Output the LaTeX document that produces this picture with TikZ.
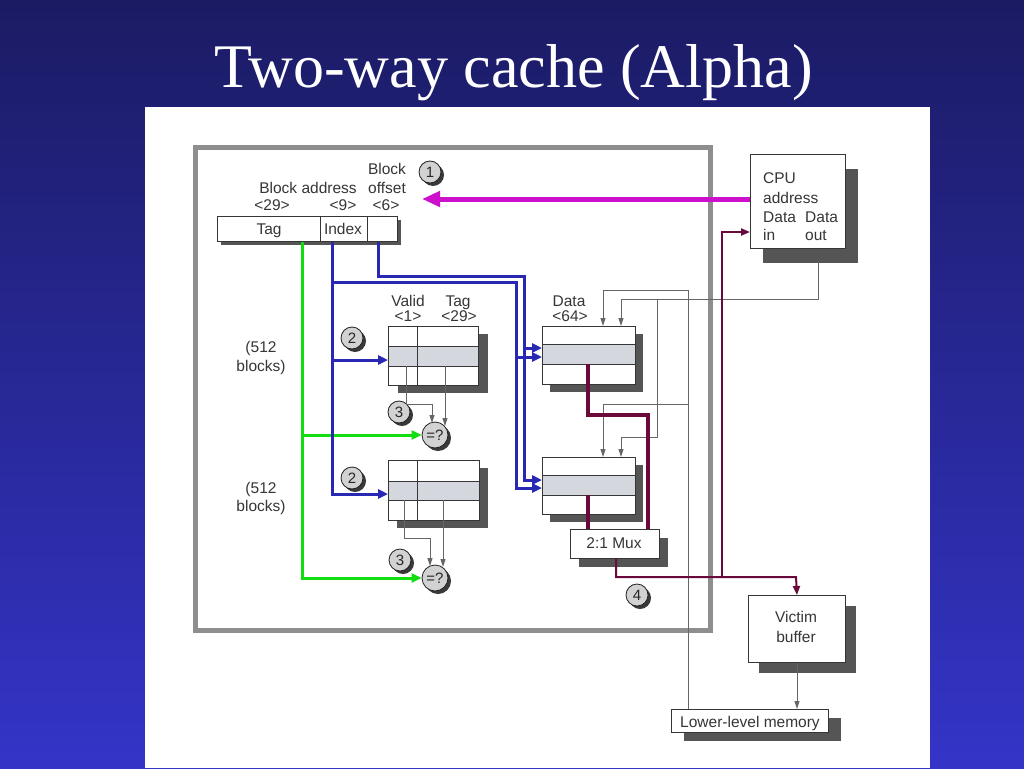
\documentclass[tikz,border=0pt]{standalone}
\usepackage{fontspec}
\setmainfont{Liberation Sans}
\newfontfamily\titlefont{Liberation Serif}
\usetikzlibrary{arrows.meta,shadows}
\definecolor{bgtop}{HTML}{1B1B64}
\definecolor{bgbot}{HTML}{3434C8}
\definecolor{txt}{HTML}{363636}
\definecolor{shd}{HTML}{555555}
\definecolor{ln}{HTML}{666666}
\definecolor{mag}{HTML}{CC10CC}
\definecolor{grn}{HTML}{11DD11}
\definecolor{blu}{HTML}{2828B4}
\definecolor{mar}{HTML}{6A0A3C}
\definecolor{rowc}{HTML}{D4D8DE}
\definecolor{frame}{HTML}{8E8E8E}
\tikzset{
 lbl/.style={text=txt, font=\fontsize{15.5}{17}\selectfont, inner sep=0pt},
 box/.style={draw=txt, line width=1pt, fill=white, inner sep=0pt, anchor=north west},
 shad/.style 2 args={general shadow={fill=shd, shadow xshift=#1, shadow yshift=#2}},
 badge/.style={circle, draw=gray!25!black, line width=0.8pt, fill=gray!35, minimum size=22pt, inner sep=0pt, text=gray!30!black, font=\fontsize{15}{15}\selectfont, general shadow={fill=gray!45!black, shadow xshift=3pt, shadow yshift=-3pt}},
 eqc/.style={badge, minimum size=26pt},
 gline/.style={draw=ln, line width=1pt},
 garr/.style={gline, -{Triangle[length=8pt,width=5pt]}},
 grarr/.style={draw=grn, line width=3pt, -{Triangle[length=10pt,width=9pt]}},
 barr/.style={draw=blu, line width=3pt, -{Triangle[length=10pt,width=9pt]}},
 mthick/.style={draw=mar, line width=4pt},
 marr/.style={draw=mar, line width=2pt, -{Triangle[length=9pt,width=7pt]}},
 magarr/.style={draw=mag, line width=5pt, -{Triangle[length=18pt,width=15pt]}},
}
\begin{document}
\begin{tikzpicture}[x=1pt,y=-1pt]
\useasboundingbox (0,0) rectangle (1024,768);
\shade[top color=bgtop,bottom color=bgbot] (0,0) rectangle (1024,768);
\fill[white] (145,107) rectangle (930,768);
\node[text=white,font=\titlefont\fontsize{62}{70}\selectfont,anchor=base,inner sep=0pt] (title) at (514,87) {Two-way cache (Alpha)};

% outer cache box
\node[draw=frame, line width=5pt, minimum width=515pt, minimum height=483pt, anchor=north west, inner sep=0pt] (cache) at (193,145) {};

% address
\node[box, minimum width=180pt, minimum height=25pt, shad={3pt}{-3pt}] (addr) at (217,216) {};
\draw[draw=txt, line width=1pt] (320,216) -- (320,241) (367,216) -- (367,241);
\node[lbl, anchor=base] (ftag) at (269,234) {Tag};
\node[lbl, anchor=base] (fidx) at (343,234) {Index};
\node[lbl, anchor=base] (lblk) at (387,174) {Block};
\node[lbl, anchor=base] (lba) at (308,193) {Block address};
\node[lbl, anchor=base] (loff) at (387,193) {offset};
\node[lbl, anchor=base] (l29) at (272,210) {<29>};
\node[lbl, anchor=base] (l9) at (343,210) {<9>};
\node[lbl, anchor=base] (l6) at (386,210) {<6>};
\node[badge] (b1) at (430,172) {1};

% CPU
\node[box, minimum width=95pt, minimum height=94pt, shad={12pt}{-14pt}] (cpu) at (750,154) {};
\node[lbl, anchor=base west] (tcpu) at (763,183) {CPU};
\node[lbl, anchor=base west] (tadr) at (763,203) {address};
\node[lbl, anchor=base west] (tdi) at (763,222) {Data};
\node[lbl, anchor=base west] (tdo) at (805,222) {Data};
\node[lbl, anchor=base west] (tin) at (763,240) {in};
\node[lbl, anchor=base west] (tout) at (805,240) {out};

% tag arrays
\node[box, minimum width=90pt, minimum height=59pt, shad={9pt}{-7pt}] (tagA) at (388,326) {};
\fill[rowc] (388,346) rectangle (478,366);
\draw[draw=txt, line width=1pt] (388,326) rectangle (478,385) (388,346) -- (478,346) (388,366) -- (478,366) (417,326) -- (417,385);
\node[box, minimum width=91pt, minimum height=60pt, shad={8pt}{-7pt}] (tagB) at (388,460) {};
\fill[rowc] (388,481) rectangle (479,500);
\draw[draw=txt, line width=1pt] (388,460) rectangle (479,520) (388,481) -- (479,481) (388,500) -- (479,500) (417,460) -- (417,520);
\node[lbl, anchor=base] (lval) at (408,306) {Valid};
\node[lbl, anchor=base] (l1) at (408,321) {<1>};
\node[lbl, anchor=base] (ltag) at (458,306) {Tag};
\node[lbl, anchor=base] (lt29) at (459,321) {<29>};
\node[lbl, anchor=base] (n1a) at (261,352) {(512};
\node[lbl, anchor=base] (n1b) at (261,371) {blocks)};
\node[lbl, anchor=base] (n2a) at (261,493) {(512};
\node[lbl, anchor=base] (n2b) at (261,511) {blocks)};

% data arrays
\node[box, minimum width=93pt, minimum height=58pt, shad={7pt}{-7pt}] (data1) at (542,326) {};
\fill[rowc] (542,344) rectangle (635,364);
\draw[draw=txt, line width=1pt] (542,326) rectangle (635,384) (542,344) -- (635,344) (542,364) -- (635,364);
\node[box, minimum width=93pt, minimum height=57pt, shad={7pt}{-7pt}] (data2) at (542,457) {};
\fill[rowc] (542,475) rectangle (635,495);
\draw[draw=txt, line width=1pt] (542,457) rectangle (635,514) (542,475) -- (635,475) (542,495) -- (635,495);
\node[lbl, anchor=base] (ldat) at (569,306) {Data};
\node[lbl, anchor=base] (l64) at (570,321) {<64>};

% mux, victim, memory
\node[box, minimum width=89pt, minimum height=29pt, shad={8pt}{-8pt}] (mux) at (570,529) {};
\node[lbl, anchor=base] (tmux) at (614,548) {2:1 Mux};
\node[box, minimum width=97pt, minimum height=67pt, shad={10pt}{-10pt}] (victim) at (748,595) {};
\node[lbl, anchor=base] (tv1) at (796,622) {Victim};
\node[lbl, anchor=base] (tv2) at (796,642) {buffer};
\node[box, minimum width=157pt, minimum height=23pt, shad={12pt}{-8pt}] (lowmem) at (671,709) {};
\node[lbl, anchor=base] (tlm) at (750,727) {Lower-level memory};

% badges and comparators
\node[badge] (b2a) at (352,338) {2};
\node[badge] (b3a) at (399,412) {3};
\node[badge] (b2b) at (352,478) {2};
\node[badge] (b3b) at (400,560) {3};
\node[badge] (b4) at (637,595) {4};
\node[eqc] (eq1) at (435,435) {=?};
\node[eqc] (eq2) at (435,578) {=?};

% gray data paths
\draw[garr] (818,262) -- (818,299) -- (621,299) -- (data1.north -| 621,0);
\draw[garr] (657,299) -- (657,437) -- (621,437) -- (data2.north -| 621,0);
\draw[garr] (lowmem.north -| 688,0) -- (688,290) -- (603,290) -- (data1.north -| 603,0);
\draw[garr] (688,404) -- (603,404) -- (data2.north -| 603,0);
\draw[garr] (victim.south) -- (lowmem.north -| victim.south);

% comparator inputs
\draw[garr] (406,366) -- (406,404) -- (432,404) -- (432,423);
\draw[garr] (445,366) -- (445,426);
\draw[garr] (404,500) -- (404,538) -- (430,538) -- (430,566);
\draw[garr] (443,500) -- (443,567);

% green tag
\draw[grarr] (addr.south -| 302,0) |- (eq2.west);
\draw[grarr] (302,435) -- (eq1.west);

% blue index / offset
\draw[barr] (addr.south -| 378,0) -- (378,276) -- (524,276) -- (524,480) -- (data2.west |- 0,480);
\draw[barr] (524,348) -- (data1.west |- 0,348);
\draw[barr] (addr.south -| 332,0) -- (332,282) -- (516,282) -- (516,488) -- (data2.west |- 0,488);
\draw[barr] (516,357) -- (data1.west |- 0,357);
\draw[barr] (332,282) -- (332,360) -- (tagA.west |- 0,360);
\draw[barr] (332,360) -- (332,494) -- (tagB.west |- 0,494);

% maroon data
\draw[mthick] (588,364) -- (588,415) -- (648,415) -- (mux.north -| 648,0);
\draw[mthick] (588,495) -- (mux.north -| 588,0);
\draw[marr] (mux.south -| 616,0) -- (616,577) -- (796,577) -- (victim.north);
\draw[marr] (722,577) -- (722,232) -- (cpu.west |- 0,232);

% magenta address
\draw[magarr] (cpu.west |- 0,199) -- (422,199);
\end{tikzpicture}
\end{document}
